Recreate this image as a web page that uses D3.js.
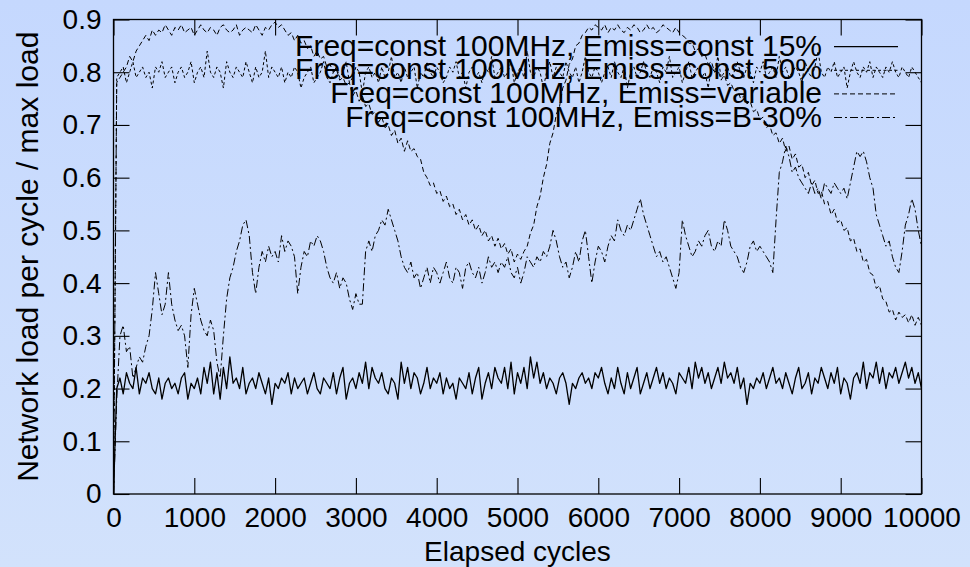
<!DOCTYPE html>
<html><head><meta charset="utf-8">
<script src="https://cdn.jsdelivr.net/npm/d3@7"></script>
<style>body{margin:0;background:#cbdcfd;} svg{display:block;}</style>
</head><body>
<svg id="chart" width="970" height="567"></svg>
<script>
// ---------------- DATA ----------------
const cycles = d3.range(0, 10001, 40); // sample positions (elapsed cycles)

const seriesNames = [
  "Freq=const 100MHz, Emiss=const 15%",
  "Freq=const 100MHz, Emiss=const 50%",
  "Freq=const 100MHz, Emiss=variable",
  "Freq=const 100MHz, Emiss=B-30%"
];

const loadConst15 = [0,
 .20,.22,.19,.23,.21,.20,.24,.19,.22,.21,
 .23,.20,.19,.22,.18,.21,.22,.20,.21,.19,
 .22,.23,.18,.21,.20,.22,.19,.24,.21,.25,
 .19,.23,.18,.24,.20,.26,.21,.22,.20,.24,
 .19,.21,.22,.20,.23,.21,.19,.22,.17,.21,
 .20,.22,.21,.23,.19,.22,.20,.21,.22,.19,
 .21,.23,.20,.19,.22,.21,.20,.23,.19,.22,
 .24,.18,.21,.22,.20,.23,.21,.25,.20,.24,
 .22,.21,.23,.20,.19,.22,.21,.18,.25,.21,
 .24,.20,.23,.22,.19,.21,.24,.20,.22,.21,
 .23,.19,.22,.20,.21,.18,.22,.21,.20,.23,
 .19,.22,.24,.18,.21,.23,.20,.24,.22,.21,
 .24,.20,.25,.19,.23,.21,.24,.20,.26,.22,
 .25,.21,.23,.20,.22,.21,.19,.22,.23,.21,
 .17,.21,.20,.22,.23,.21,.22,.20,.23,.22,
 .24,.21,.19,.22,.20,.24,.21,.19,.23,.20,
 .22,.24,.19,.21,.23,.20,.22,.24,.21,.23,
 .20,.22,.21,.19,.23,.22,.21,.24,.20,.25,
 .22,.24,.21,.23,.20,.22,.24,.21,.25,.22,
 .23,.21,.24,.20,.22,.17,.21,.20,.22,.21,
 .23,.20,.22,.24,.21,.22,.20,.23,.21,.19,
 .22,.24,.20,.21,.23,.19,.22,.21,.24,.22,
 .20,.23,.21,.24,.19,.22,.21,.18,.22,.23,
 .21,.25,.20,.23,.22,.25,.21,.24,.20,.23,
 .22,.24,.21,.23,.25,.22,.24,.21,.23,.20];

const loadConst50 = [0,
 .79,.80,.81,.78,.80,.82,.79,.80,.81,.79,
 .80,.77,.81,.80,.82,.79,.80,.81,.78,.80,
 .81,.79,.80,.82,.78,.80,.81,.79,.84,.80,
 .79,.81,.80,.77,.82,.80,.79,.81,.80,.79,
 .82,.80,.78,.81,.79,.80,.84,.79,.81,.80,
 .79,.81,.78,.80,.79,.81,.80,.77,.79,.80,
 .81,.78,.79,.80,.82,.79,.78,.80,.81,.79,
 .80,.82,.78,.79,.81,.80,.76,.80,.81,.79,
 .80,.78,.81,.79,.80,.83,.79,.80,.78,.81,
 .79,.80,.81,.77,.80,.79,.82,.80,.79,.81,
 .80,.78,.79,.81,.80,.82,.79,.80,.77,.80,
 .81,.79,.80,.78,.81,.80,.83,.79,.80,.81,
 .79,.80,.82,.78,.80,.81,.79,.84,.80,.79,
 .81,.80,.77,.80,.82,.79,.81,.80,.79,.82,
 .80,.79,.81,.78,.80,.83,.80,.79,.81,.80,
 .78,.80,.81,.79,.82,.80,.79,.81,.77,.80,
 .81,.79,.80,.82,.80,.79,.81,.80,.78,.81,
 .80,.83,.79,.80,.81,.78,.80,.82,.79,.80,
 .81,.79,.80,.77,.81,.80,.83,.79,.80,.81,
 .79,.80,.82,.80,.79,.81,.80,.78,.81,.80,
 .82,.79,.80,.81,.79,.83,.80,.81,.79,.80,
 .81,.80,.78,.82,.80,.79,.81,.84,.80,.79,
 .81,.80,.82,.79,.80,.81,.77,.80,.82,.80,
 .79,.81,.80,.82,.79,.81,.80,.79,.81,.80,
 .82,.80,.79,.81,.80,.79,.81,.80,.79,.78];

const loadVariable = [0,
 .78,.79,.80,.81,.83,.82,.84,.85,.86,.87,
 .86,.88,.87,.88,.875,.89,.88,.87,.885,.88,
 .89,.875,.88,.885,.87,.88,.89,.88,.875,.885,
 .88,.87,.885,.89,.88,.875,.88,.89,.87,.88,
 .885,.88,.875,.89,.88,.87,.885,.88,.89,.895,
 .885,.89,.88,.87,.875,.86,.87,.855,.86,.845,
 .85,.83,.84,.825,.83,.81,.815,.80,.805,.785,
 .79,.775,.78,.755,.765,.745,.755,.735,.74,.72,
 .725,.705,.715,.695,.70,.68,.69,.665,.675,.65,
 .67,.65,.655,.64,.635,.61,.60,.585,.59,.57,
 .575,.555,.565,.545,.55,.53,.54,.52,.53,.51,
 .52,.50,.51,.49,.50,.48,.49,.47,.485,.465,
 .475,.455,.465,.44,.455,.445,.46,.47,.495,.51,
 .545,.565,.60,.625,.665,.685,.72,.735,.77,.785,
 .815,.825,.85,.855,.87,.875,.885,.88,.89,.885,
 .88,.89,.875,.885,.88,.89,.88,.875,.885,.88,
 .89,.885,.875,.88,.89,.88,.885,.875,.88,.89,
 .885,.88,.875,.885,.875,.87,.865,.855,.855,.84,
 .845,.83,.835,.815,.82,.80,.805,.785,.795,.775,
 .78,.765,.77,.75,.755,.74,.745,.725,.73,.71,
 .715,.695,.70,.68,.685,.665,.675,.65,.66,.635,
 .645,.62,.625,.60,.61,.585,.595,.57,.575,.55,
 .555,.53,.54,.515,.52,.50,.505,.48,.485,.46,
 .465,.44,.445,.42,.415,.39,.395,.37,.365,.345,
 .35,.33,.345,.335,.34,.325,.34,.32,.335,.32];

const loadB30 = [0,
 .18,.30,.32,.27,.28,.22,.24,.26,.25,.28,
 .30,.35,.42,.38,.34,.36,.42,.36,.33,.31,
 .32,.30,.24,.34,.39,.36,.33,.31,.30,.33,
 .31,.25,.22,.30,.37,.41,.43,.46,.48,.51,
 .52,.49,.42,.38,.43,.46,.44,.47,.45,.46,
 .44,.49,.46,.48,.47,.45,.38,.43,.46,.45,
 .48,.47,.49,.48,.46,.43,.41,.40,.42,.39,
 .41,.40,.37,.35,.38,.36,.36,.46,.48,.46,
 .49,.50,.52,.51,.54,.52,.50,.48,.45,.43,
 .42,.44,.41,.42,.39,.41,.43,.40,.43,.42,
 .40,.42,.44,.41,.40,.43,.42,.39,.43,.44,
 .42,.41,.43,.40,.42,.45,.43,.44,.42,.44,
 .43,.45,.42,.41,.43,.40,.42,.45,.44,.43,
 .45,.44,.46,.45,.47,.50,.48,.45,.43,.44,
 .41,.43,.46,.44,.48,.50,.45,.40,.44,.47,
 .46,.44,.47,.49,.48,.52,.50,.49,.51,.50,
 .52,.54,.56,.53,.51,.49,.47,.45,.46,.44,
 .45,.43,.41,.39,.42,.52,.49,.47,.45,.46,
 .48,.47,.49,.50,.47,.46,.48,.47,.52,.50,
 .47,.46,.45,.43,.42,.44,.47,.48,.46,.47,
 .46,.45,.44,.42,.52,.61,.63,.66,.64,.61,
 .62,.60,.59,.58,.57,.59,.57,.58,.56,.59,
 .58,.57,.59,.58,.57,.58,.56,.59,.62,.65,
 .64,.65,.63,.60,.58,.53,.51,.49,.47,.48,
 .45,.43,.42,.46,.51,.53,.56,.54,.50,.47];

const xTicks = [0,1000,2000,3000,4000,5000,6000,7000,8000,9000,10000];
const yTicks = [0,0.1,0.2,0.3,0.4,0.5,0.6,0.7,0.8,0.9];
const yTickLabels = ["0","0.1","0.2","0.3","0.4","0.5","0.6","0.7","0.8","0.9"];
const xTitle = "Elapsed cycles";
const yTitle = "Network load per cycle / max load";

// ---------------- DRAW ----------------
const W = 970, H = 567;
const FONT = "'Liberation Sans', Arial, sans-serif";
const svg = d3.select("#chart");

const defs = svg.append("defs");
const grad = defs.append("linearGradient").attr("id","bg").attr("x1",0).attr("y1",0).attr("x2",0).attr("y2",1);
grad.append("stop").attr("offset","0%").attr("stop-color","#c5d8fe");
grad.append("stop").attr("offset","100%").attr("stop-color","#d2e2fc");
svg.append("rect").attr("width",W).attr("height",H).attr("fill","url(#bg)");

const x = d3.scaleLinear().domain([0,10000]).range([113.5,921.5]);
const y = d3.scaleLinear().domain([0,0.9]).range([494,19.5]);
const [x0,x1] = x.range(), [y0,y1] = y.range();

defs.append("clipPath").attr("id","plotclip").append("rect")
  .attr("x",x0).attr("y",y1).attr("width",x1-x0).attr("height",y0-y1);

function styleAxis(g, size){
  g.select(".domain").remove();
  g.selectAll(".tick line").attr("stroke","#000").attr("stroke-width",1.1);
  g.selectAll(".tick text").attr("font-family",FONT).attr("font-size",size).attr("fill","#000");
}

svg.append("g").attr("transform",`translate(0,${y0})`)
  .call(d3.axisBottom(x).tickValues(xTicks).tickFormat(d=>String(d)).tickSize(-16).tickPadding(13))
  .call(g=>styleAxis(g,28));
svg.append("g").attr("transform",`translate(0,${y1})`)
  .call(d3.axisTop(x).tickValues(xTicks).tickFormat("").tickSize(-16))
  .call(g=>styleAxis(g,28));
svg.append("g").attr("transform",`translate(${x0},0)`)
  .call(d3.axisLeft(y).tickValues(yTicks).tickFormat((d,i)=>yTickLabels[i]).tickSize(-16).tickPadding(12))
  .call(g=>styleAxis(g,28));
svg.append("g").attr("transform",`translate(${x1},0)`)
  .call(d3.axisRight(y).tickValues(yTicks).tickFormat("").tickSize(-16))
  .call(g=>styleAxis(g,28));

// axis titles
svg.append("text").attr("x",(x0+x1)/2).attr("y",561).attr("text-anchor","middle")
  .attr("font-family",FONT).attr("font-size",28).text(xTitle);
svg.append("text").attr("transform",`translate(38,${(y0+y1)/2}) rotate(-90)`).attr("text-anchor","middle")
  .attr("font-family",FONT).attr("font-size",30).text(yTitle);

// series
const seriesData = [loadConst15, loadConst50, loadVariable, loadB30];
const seriesStyles = [
  {w:1.3, dash:null},
  {w:1.0, dash:"3,2.5"},
  {w:1.0, dash:"5,3"},
  {w:1.0, dash:"8,3,2,3"}
];

// legend
const legendTop = 46.7, legendStep = 23.6;
const lg = svg.append("g");
seriesNames.forEach((name,i)=>{
  const ly = legendTop + i*legendStep;
  lg.append("text").attr("x",822).attr("y",ly+9).attr("text-anchor","end")
    .attr("font-family",FONT).attr("font-size",30).attr("fill","#000").text(name);
  lg.append("line").attr("x1",834).attr("x2",898).attr("y1",ly).attr("y2",ly)
    .attr("stroke","#000").attr("stroke-width",seriesStyles[i].w)
    .attr("stroke-dasharray",seriesStyles[i].dash);
});

const line = d3.line().x((d,i)=>x(cycles[i])).y(d=>y(d));
const plot = svg.append("g").attr("clip-path","url(#plotclip)");
seriesData.forEach((vals,i)=>{
  plot.append("path").datum(vals).attr("d",line)
    .attr("fill","none").attr("stroke","#000")
    .attr("stroke-width",seriesStyles[i].w)
    .attr("stroke-linejoin","round")
    .attr("stroke-dasharray",seriesStyles[i].dash);
});

// frame
svg.append("rect").attr("x",x0).attr("y",y1).attr("width",x1-x0).attr("height",y0-y1)
  .attr("fill","none").attr("stroke","#000").attr("stroke-width",1.3);
</script>
</body></html>
